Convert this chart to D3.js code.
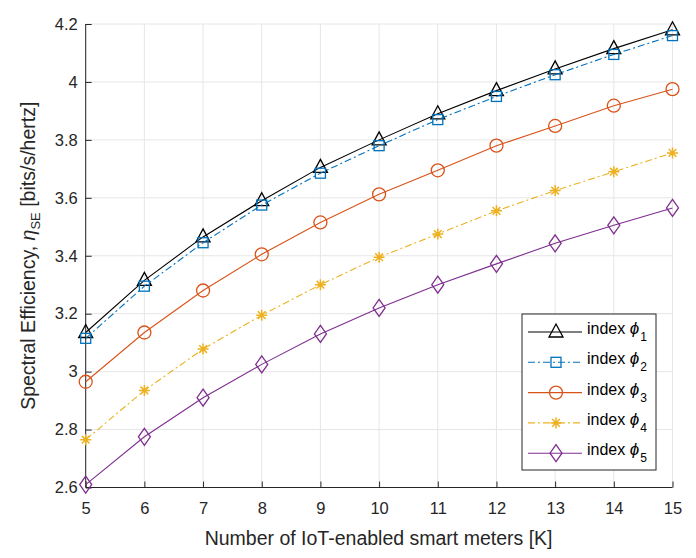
<!DOCTYPE html>
<html><head><meta charset="utf-8">
<script src="https://cdn.jsdelivr.net/npm/d3@7"></script>
<style>body{margin:0;background:#fff}text{font-family:"Liberation Sans",Arial,sans-serif}</style>
</head><body><svg id="c" width="696" height="558"></svg>
<script>
const K = [5,6,7,8,9,10,11,12,13,14,15];
const phi1 = [3.135,3.315,3.465,3.59,3.705,3.80,3.89,3.97,4.045,4.115,4.18];
const phi2 = [3.115,3.295,3.445,3.575,3.685,3.78,3.87,3.95,4.025,4.095,4.16];
const phi3 = [2.965,3.135,3.28,3.405,3.515,3.612,3.695,3.78,3.848,3.918,3.975];
const phi4 = [2.765,2.935,3.078,3.195,3.30,3.395,3.475,3.555,3.625,3.69,3.755];
const phi5 = [2.61,2.775,2.91,3.025,3.13,3.22,3.30,3.372,3.443,3.505,3.565];
const xTicks = [5,6,7,8,9,10,11,12,13,14,15];
const yTicks = [2.6,2.8,3,3.2,3.4,3.6,3.8,4,4.2];
const seriesNames = ["1","2","3","4","5"];

const series = [
  {sub:seriesNames[0], vals:phi1, color:"#000000", dash:null, marker:"triangle"},
  {sub:seriesNames[1], vals:phi2, color:"#0072BD", dash:"7,3,2,3", marker:"square"},
  {sub:seriesNames[2], vals:phi3, color:"#D95319", dash:null, marker:"circle"},
  {sub:seriesNames[3], vals:phi4, color:"#EDB120", dash:"7,3,2,3", marker:"asterisk"},
  {sub:seriesNames[4], vals:phi5, color:"#7E2F8E", dash:null, marker:"diamond"}
];

const svg = d3.select("#c");
const L=85.7, R=672.5, T=24, B=487.5;
const x = d3.scaleLinear().domain([5,15]).range([L,R]);
const y = d3.scaleLinear().domain([2.6,4.2]).range([B,T]);

// grid
const g = svg.append("g");
g.selectAll(".vg").data(xTicks).enter().append("line")
  .attr("x1",d=>x(d)).attr("x2",d=>x(d)).attr("y1",T).attr("y2",B)
  .attr("stroke","#e6e6e6").attr("stroke-width",1);
g.selectAll(".hg").data(yTicks).enter().append("line")
  .attr("y1",d=>y(d)).attr("y2",d=>y(d)).attr("x1",L).attr("x2",R)
  .attr("stroke","#e6e6e6").attr("stroke-width",1);

// axes
const xAxis = d3.axisBottom(x).tickValues(xTicks).tickSize(-6).tickPadding(15).tickFormat(d3.format("d"));
const yAxis = d3.axisLeft(y).tickValues(yTicks).tickSize(-6).tickPadding(8).tickFormat(d=>d3.format("")(d));
const ax = svg.append("g").attr("transform",`translate(0,${B})`).call(xAxis);
const ay = svg.append("g").attr("transform",`translate(${L},0)`).call(yAxis);
[ax,ay].forEach(a=>{
  a.select(".domain").attr("stroke","#262626").attr("stroke-width",1);
  a.selectAll(".tick line").attr("stroke","#262626");
  a.selectAll(".tick text").attr("fill","#262626").style("font-size","16.5px");
});
ax.select(".domain").attr("d",`M${L},0H${R}`);
ay.select(".domain").attr("d",`M0,${B}V${T}`);

function drawMarker(sel, type, color){
  if(type==="triangle"){
    sel.append("path").attr("d","M0,-8L7,5L-7,5Z").attr("fill","none").attr("stroke",color).attr("stroke-width",1.3);
  } else if(type==="square"){
    sel.append("rect").attr("x",-5).attr("y",-5).attr("width",10).attr("height",10).attr("fill","none").attr("stroke",color).attr("stroke-width",1.3);
  } else if(type==="circle"){
    sel.append("circle").attr("r",6.5).attr("fill","none").attr("stroke",color).attr("stroke-width",1.3);
  } else if(type==="asterisk"){
    const s=5.5;
    sel.append("path").attr("d",`M${-s},0H${s}M0,${-s}V${s}M${-s*0.7},${-s*0.7}L${s*0.7},${s*0.7}M${-s*0.7},${s*0.7}L${s*0.7},${-s*0.7}`)
      .attr("stroke",color).attr("stroke-width",1.5);
  } else if(type==="diamond"){
    sel.append("path").attr("d","M0,-8.5L6,0L0,8.5L-6,0Z").attr("fill","none").attr("stroke",color).attr("stroke-width",1.3);
  }
}

const line = d3.line().x(d=>x(d[0])).y(d=>y(d[1]));
series.forEach(s=>{
  const pts = K.map((k,i)=>[k,s.vals[i]]);
  svg.append("path").datum(pts).attr("d",line).attr("fill","none")
    .attr("stroke",s.color).attr("stroke-width",1.1)
    .attr("stroke-dasharray",s.dash);
  pts.forEach(p=>{
    const m = svg.append("g").attr("transform",`translate(${x(p[0])},${y(p[1])})`);
    drawMarker(m,s.marker,s.color);
  });
});

// legend
const lx=522, ly=314, lw=134, lh=156;
svg.append("rect").attr("x",lx).attr("y",ly).attr("width",lw).attr("height",lh)
  .attr("fill","#fff").attr("stroke","#262626").attr("stroke-width",1);
series.forEach((s,i)=>{
  const cy = ly + 18 + i*30.3;
  svg.append("line").attr("x1",lx+6).attr("x2",lx+60).attr("y1",cy).attr("y2",cy)
    .attr("stroke",s.color).attr("stroke-width",1.1).attr("stroke-dasharray",s.dash);
  const m = svg.append("g").attr("transform",`translate(${lx+34},${cy})`);
  drawMarker(m,s.marker,s.color);
  const t = svg.append("text").attr("x",lx+65).attr("y",cy+2).attr("fill","#000").style("font-size","16px");
  t.append("tspan").text("index ");
  t.append("tspan").text("\u03D5").style("font-style","italic").style("font-size","17px");
  t.append("tspan").text(s.sub).attr("dy",7).attr("dx",1).style("font-size","12px");
});

// axis labels
svg.append("text").attr("x",(L+R)/2 - 0.5).attr("y",545).attr("text-anchor","middle")
  .attr("fill","#262626").style("font-size","19.5px").text("Number of IoT-enabled smart meters [K]");
const yl = svg.append("text").attr("transform",`translate(35,${(T+B)/2}) rotate(-90)`)
  .attr("text-anchor","middle").attr("fill","#262626").style("font-size","19.5px");
yl.append("tspan").text("Spectral Efficiency, ");
yl.append("tspan").text("\u03B7").style("font-style","italic");
yl.append("tspan").text("SE").attr("dy",5).style("font-size","13px");
yl.append("tspan").text(" [bits/s/hertz]").attr("dy",-5);
</script></body></html>
